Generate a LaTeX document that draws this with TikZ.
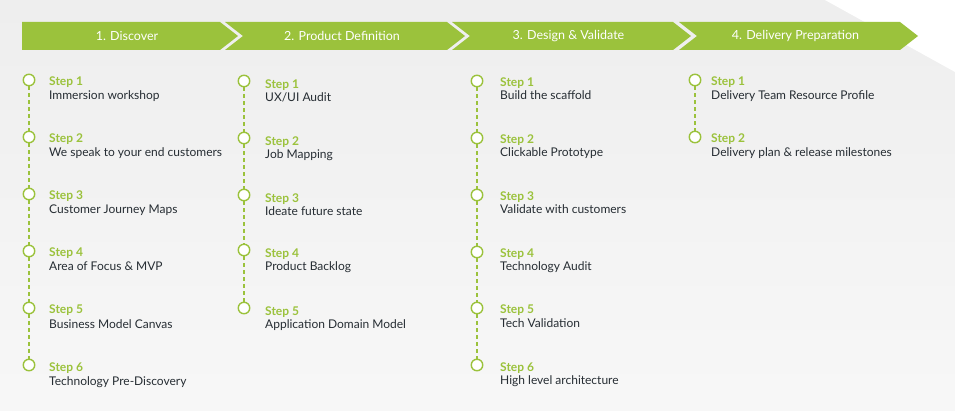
\documentclass[tikz,border=0pt]{standalone}
\usepackage{fontspec}
\setmainfont{Lato}
\usetikzlibrary{positioning}
\definecolor{leaf}{HTML}{9BC23C}
\definecolor{ink}{HTML}{262D33}
\definecolor{paper}{HTML}{EEEEEE}
\tikzset{
  phase/.style={text=white,font=\fontsize{12.5}{14}\selectfont},
  dot/.style={circle,draw=leaf,line width=1.4pt,fill=white,minimum size=11.5pt,inner sep=0pt},
  steplbl/.style={anchor=base west,text=leaf,font=\bfseries\fontsize{12}{14}\selectfont,inner sep=0pt},
  stepdesc/.style={anchor=base west,text=ink,font=\fontsize{12}{14}\selectfont,inner sep=0pt},
  link/.style={leaf,line width=1.4pt,dash pattern=on 4pt off 3pt}
}
\begin{document}
\begin{tikzpicture}[x=1pt,y=-1pt]
  \useasboundingbox (0,0) rectangle (955,411);
  %% background
  \shade[top color=paper,bottom color=white!97!black] (0,0) rectangle (955,411);
  \fill[white] (825,0) -- (955,0) -- (955,72) -- cycle;
  %% phase banner
  \foreach \l/\r/\n/\t [count=\i] in {22/220/0/1. Discover, 225/447/18/2. Product Definition, 452/673/18/3. Design \& Validate, 679/900/18/4. Delivery Preparation}{
    \fill[leaf] (\l,22) -- (\r,22) -- (\r+18,36) -- (\r,50) -- (\l,50) -- (\l+\n,36) -- cycle;
    \node[phase] (phase\i) at ({(\l+\r)/2+6},36) {\t};
  }
  %% 1. Discover
  \foreach \y/\t [count=\i] in {80/Immersion workshop, 137/We speak to your end customers, 194/Customer Journey Maps, 251/Area of Focus \& MVP, 308/Business Model Canvas, 365/Technology Pre-Discovery}{
    \node[dot] (a\i) at (29,\y) {};
    \node[steplbl] (as\i) at (49,\y+6) {Step \i};
    \node[stepdesc] (ad\i) at (49,\y+20) {\t};
    \ifnum\i>1 \pgfmathtruncatemacro\p{\i-1}\draw[link] (a\p) -- (a\i); \fi
  }
  %% 2. Product Definition
  \foreach \y/\t [count=\i] in {81/{UX/UI Audit}, 138/Job Mapping, 195/Ideate future state, 250/Product Backlog, 308/Application Domain Model}{
    \node[dot] (b\i) at (244,\y) {};
    \node[steplbl] (bs\i) at (265,\y+8) {Step \i};
    \node[stepdesc] (bd\i) at (265,\y+21) {\t};
    \ifnum\i>1 \pgfmathtruncatemacro\p{\i-1}\draw[link] (b\p) -- (b\i); \fi
  }
  %% 3. Design & Validate
  \foreach \y/\t [count=\i] in {81/Build the scaffold, 138/Clickable Prototype, 195/Validate with customers, 252/Technology Audit, 308/Tech Validation, 365/High level architecture}{
    \node[dot] (c\i) at (477,\y) {};
    \node[steplbl] (cs\i) at (500,\y+6) {Step \i};
    \node[stepdesc] (cd\i) at (500,\y+19) {\t};
    \ifnum\i>1 \pgfmathtruncatemacro\p{\i-1}\draw[link] (c\p) -- (c\i); \fi
  }
  %% 4. Delivery Preparation
  \foreach \y/\t [count=\i] in {80/Delivery Team Resource Profile, 137/Delivery plan \& release milestones}{
    \node[dot] (d\i) at (695,\y) {};
    \node[steplbl] (ds\i) at (711,\y+6) {Step \i};
    \node[stepdesc] (dd\i) at (711,\y+20) {\t};
    \ifnum\i>1 \pgfmathtruncatemacro\p{\i-1}\draw[link] (d\p) -- (d\i); \fi
  }
\end{tikzpicture}
\end{document}
